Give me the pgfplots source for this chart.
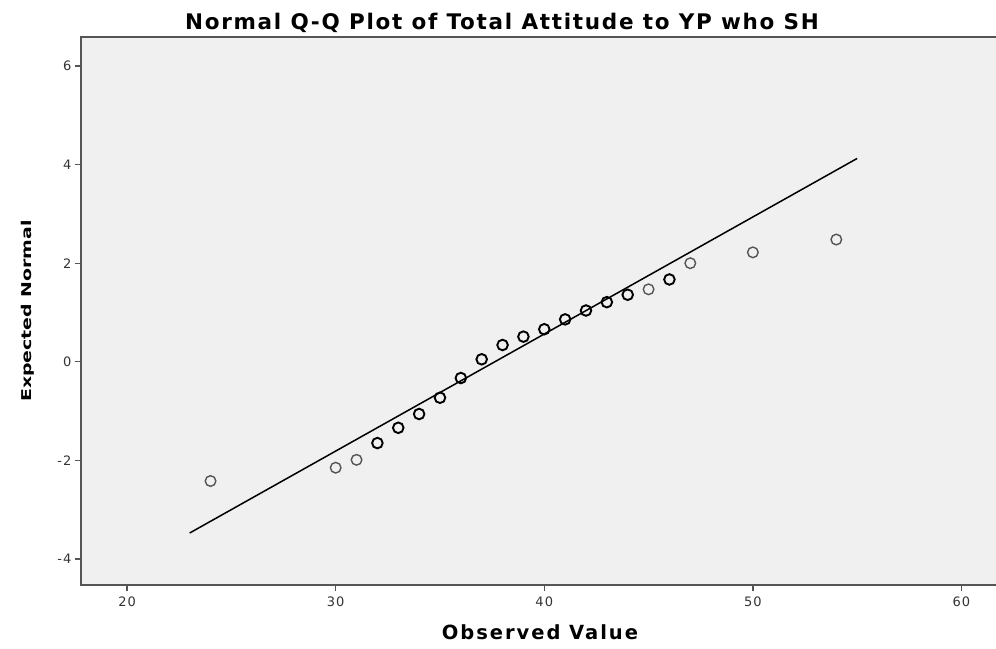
\documentclass[border=0pt]{standalone}
\usepackage{pgfplots}
\pgfplotsset{compat=1.18}
\usepackage{fontspec}
\setmainfont{DejaVu Sans}
\definecolor{bgc}{HTML}{F0F0F0}
\definecolor{axc}{HTML}{555555}
\definecolor{lightm}{HTML}{555555}
\begin{document}
\begin{tikzpicture}
\path[use as bounding box] (-81pt,-63pt) rectangle (915pt,585pt);
\begin{axis}[
  at={(0pt,0pt)}, anchor=south west,
  scale only axis,
  width=918pt, height=548pt,
  xmin=17.79, xmax=61.8,
  ymin=-4.53, ymax=6.59,
  xtick={20,30,40,50,60},
  ytick={-4,-2,0,2,4,6},
  axis background/.style={fill=bgc},
  axis line style={axc, line width=1.6pt},
  tick style={axc, line width=1.4pt},
  tick align=outside,
  major tick length=6pt,
  xtick pos=bottom, ytick pos=left,
  /pgf/number format/assume math mode=true,
  ticklabel style={font=\fontsize{13}{15}\selectfont\addfontfeatures{LetterSpace=8}, text=black!80},
  xticklabel style={yshift=-2pt},
  title={\bfseries Normal Q-Q Plot of Total Attitude to YP who SH},
  title style={font=\fontsize{21.5}{24}\selectfont\addfontfeatures{LetterSpace=8}, yshift=-5pt, xshift=-38pt},
  xlabel={\bfseries Observed Value},
  ylabel={\bfseries Expected Normal},
  xlabel style={font=\fontsize{19.5}{22}\selectfont\addfontfeatures{LetterSpace=10}, yshift=-11pt},
  ylabel style={font=\fontsize{13.5}{16}\selectfont, xscale=1.40, yshift=16pt},
  clip=false,
]
\addplot[black, line width=1.5pt, no marks] coordinates {(23,-3.475) (55,4.126)};
\addplot[only marks, mark=o, mark size=5.3pt, mark options={lightm, line width=1.4pt}] coordinates {
(24,-2.42) (30,-2.15) (31,-1.99) (45,1.47) (47,2.00) (50,2.22) (54,2.48)
};
\addplot[only marks, mark=o, mark size=5.3pt, mark options={black, line width=1.9pt}] coordinates {
(32,-1.65) (33,-1.34) (34,-1.06) (35,-0.73) (36,-0.33) (37,0.05) (38,0.34)
(39,0.51) (40,0.66) (41,0.86) (42,1.04) (43,1.21) (44,1.36) (46,1.67)
};
\end{axis}
\end{tikzpicture}
\end{document}
